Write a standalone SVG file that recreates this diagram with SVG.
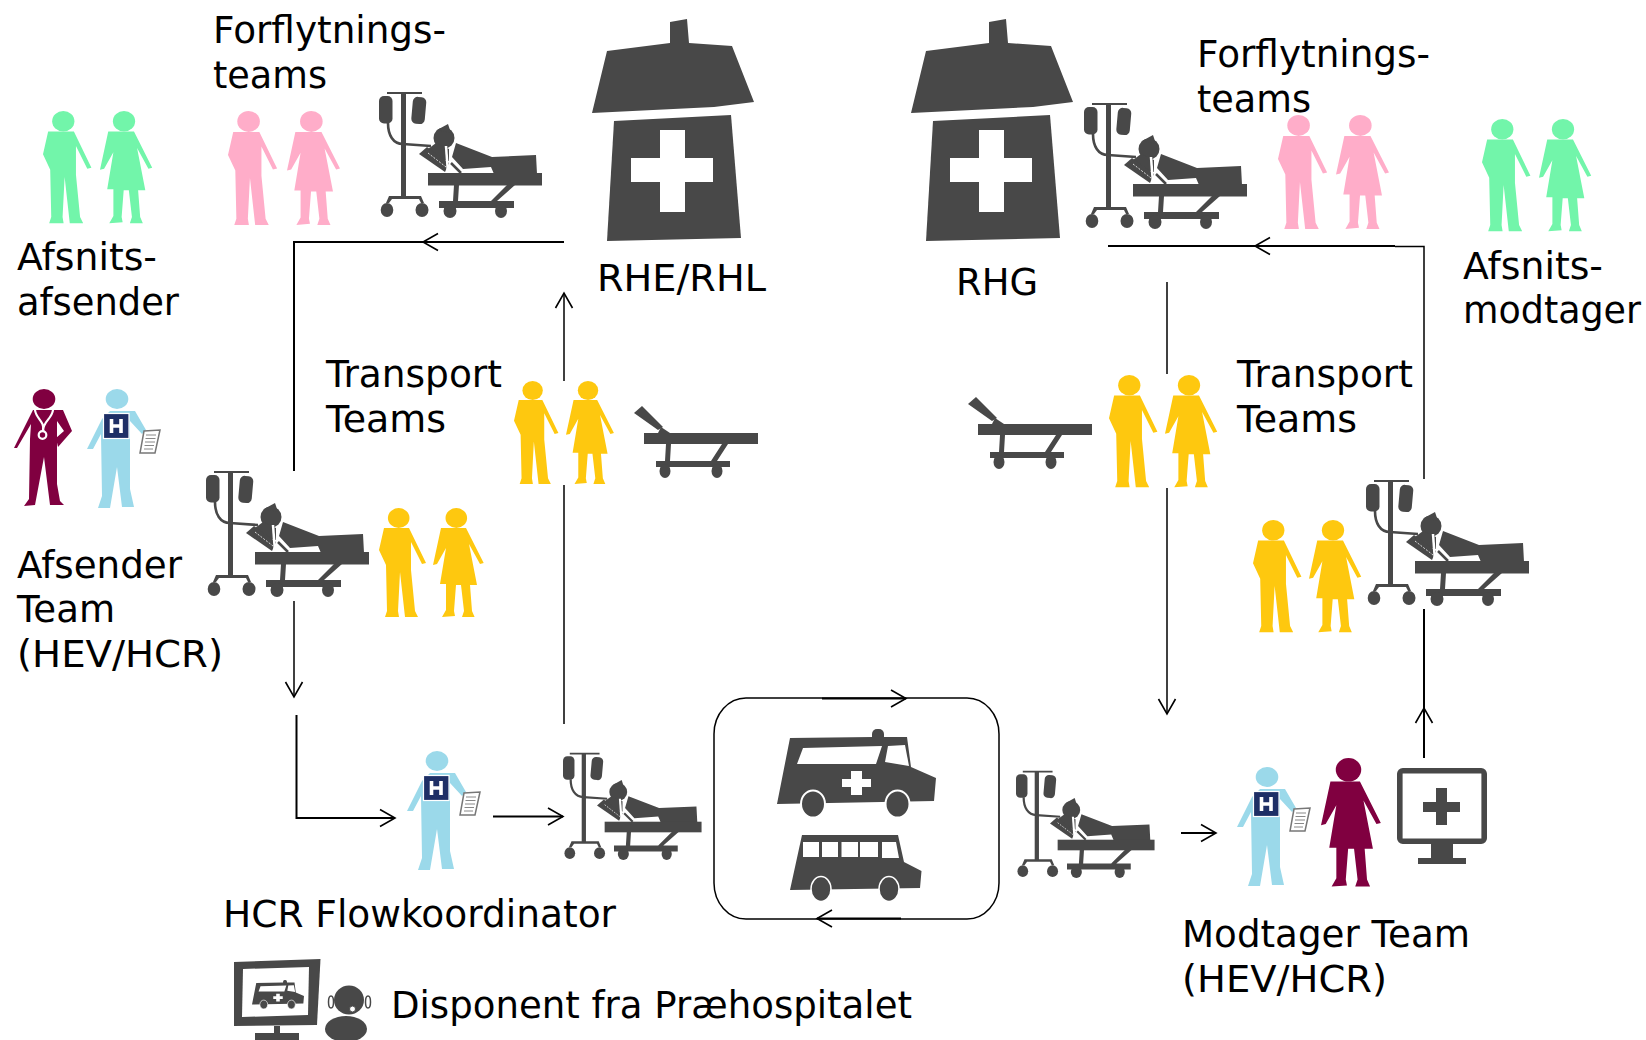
<svg xmlns="http://www.w3.org/2000/svg" xmlns:xlink="http://www.w3.org/1999/xlink" width="1646" height="1040" viewBox="0 0 1646 1040">
<style>
text{font-family:"DejaVu Sans",Verdana,sans-serif;font-size:37px;fill:#000}
.dk{fill:#484848}
.wh{fill:#fff}
.y{fill:#fec80f}.p{fill:#ffadc9}.g{fill:#72f5aa}.b{fill:#800040}.l{fill:#9bd9ea}
.c{fill:none;stroke:#000;stroke-width:1.5}
.c2{fill:none;stroke:#000;stroke-width:2}
</style>
<defs>
<marker id="v" markerUnits="userSpaceOnUse" markerWidth="22" markerHeight="24" refX="18" refY="12" orient="auto" overflow="visible"><path d="M3,3.5 L18,12 L3,20.5" fill="none" stroke="#000" stroke-width="1.6"/></marker>
<g id="man"><ellipse cx="19.7" cy="10" rx="10.8" ry="10"/><path d="M5,20 L30,20 L47,55 L43,56 L32,34 L32,62 L36,103 L39,109 L26,109 L21,64 L19,103 L20,109 L6,109 L8,103 L7,57 L0,42 Z"/></g>
<g id="woman"><ellipse cx="23.3" cy="10" rx="10.8" ry="10"/><path d="M8,20 L33,20 L50.7,55 L47,56 L36,36 L44,77 L37,77 L39,103 L41.6,109 L29,109 L31,103 L28,77 L23,77 L21,103 L22,108 L9,109 L13,102 L13,76 L7,76 L13,40 L4,56 L0,57 Z"/></g>
<g id="patient">
<path class="dk" d="M22,3 H8 V1 H43 V3 H27 V105 H42 L45,112 H42 L40,108 H13 L10,112 H7 L10,105 H22 Z"/>
<rect class="dk" x="0" y="5" width="13.500" height="27.500" rx="5"/>
<rect class="dk" x="33" y="6" width="13.500" height="27" rx="5" transform="rotate(5 40 20)"/>
<path d="M9,32 C9,44 14,53 24,53 L52,55" fill="none" stroke="#484848" stroke-width="2.600"/>
<ellipse class="dk" cx="8" cy="119" rx="6.300" ry="7"/><ellipse class="dk" cx="43" cy="119" rx="6.500" ry="7"/>
<circle class="dk" cx="65" cy="47" r="10.500"/>
<path class="dk" d="M58,39 L69,33 L72,42 Z"/>
<path class="dk" d="M49,58 L57,52 L70,58 L70,70 L58,68 Z"/>
<path class="dk" d="M40,63 L48,56 L70,72 L66,81 Z"/>
<path d="M49,62 L67,76" stroke="#fff" stroke-width="0.800" stroke-dasharray="2 1.500"/>
<path d="M67,55 L69,82" stroke="#fff" stroke-width="2.500"/>
<path class="dk" d="M77,52 L113,66 L157,64 L158,83 L115,83 L112,76 L84,78 L73,66 Z"/>
<path d="M72,72 L82,82" stroke="#484848" stroke-width="2.500"/>
<rect class="dk" x="49" y="82" width="114" height="12.500"/>
<path class="dk" d="M75,94 H80 L79,110 H112 L128,94 H136 L118,110 H135 V117 H60 V110 H74 Z"/>
<ellipse class="dk" cx="71" cy="120" rx="6.500" ry="7"/><ellipse class="dk" cx="122" cy="120" rx="6" ry="7"/>
</g>
<g id="stretcher">
<path class="dk" d="M0,7 L8,0 L29,21 L24,24 Z"/>
<path class="dk" d="M27,21 L36,27 L24,27 Z"/>
<rect class="dk" x="10" y="27" width="114" height="11"/>
<path class="dk" d="M32,38 H37 L36,55 H77 L88,38 H94 L83,55 H96 V61 H22 V55 H31 Z"/>
<ellipse class="dk" cx="31" cy="65" rx="5.500" ry="7"/><ellipse class="dk" cx="83" cy="65" rx="5.500" ry="7"/>
</g>
<g id="nurse">
<ellipse class="l" cx="30" cy="10" rx="11.300" ry="10"/>
<path class="l" d="M23,22 L48,22 L59,41 L55,45 L43,32 L43,100 L47,118 L35,118 L30,78 L23,119 L11,119 L15,107 L14,45 L6,60 L0,60 L15,30 Z"/>
<rect x="16.500" y="24.500" width="25.500" height="25" fill="#1e2f66" stroke="#fff" stroke-width="1.200"/>
<path d="M24.500,30 V44 M34,30 V44 M24.500,37 H34" stroke="#fff" stroke-width="3.600" fill="none"/>
<path d="M57,42 L73,41 L68,64 L53,64 Z" fill="#fff" stroke="#777" stroke-width="1.500"/>
<path d="M59,46 H69 M58.500,49.500 H68.500 M58,53 H68 M57.500,56.500 H67 M57,60 H66" stroke="#888" stroke-width="1"/>
</g>
<g id="doctor">
<ellipse class="b" cx="30" cy="10" rx="11.300" ry="10"/>
<path class="b" d="M19,21 L49,21 L58,42 L44,58 L42,49 L50,42 L43,32 L43,95 L46,112 L50,116 L36,116 L30,68 L21,116 L10,117 L15,110 L16,50 L17,35 L3,59 L0,59 Z"/>
<path d="M21,21 C22,30 31,32 29,42 M39,21 C38,30 29,32 29,42" fill="none" stroke="#fff" stroke-width="2.200"/>
<circle cx="28.500" cy="46" r="3.800" fill="none" stroke="#fff" stroke-width="2.200"/>
</g>
<g id="hospital">
<path class="dk" d="M78,3 L95,0 L97,24 L140,27 L162,83 L122,88 L0,94 L15,32 L78,24 Z"/>
<path class="dk" d="M22,102 L139,96 L149,219 L15,222 Z"/>
<path class="wh" d="M68,111 H93 V139 H121 V163 H93 V193 H68 V163 H39 V139 H68 Z"/>
</g>
<g id="ambulance">
<rect class="dk" x="95" y="0" width="12" height="14" rx="5"/>
<path class="dk" d="M13,9 L96,8 L130,8 L134,38 L159,49 L157,72 L0,75 Z"/>
<path class="wh" d="M26,19 L105,17 L99,35 L20,35 Z"/>
<path class="wh" d="M111,17 L128,16 L132,37 L108,33 Z"/>
<path class="wh" d="M74,42 H85 V50 H94 V58 H85 V66 H74 V58 H65 V50 H74 Z"/>
<ellipse class="dk" cx="36" cy="75" rx="12" ry="13.500" stroke="#fff" stroke-width="2"/>
<ellipse class="dk" cx="120.500" cy="75" rx="12" ry="13.500" stroke="#fff" stroke-width="2"/>
</g>
</defs>

<g id="connectors">
<path class="c2" marker-end="url(#v)" d="M564,242 L423,242"/>
<path class="c2" d="M423,242 L294,242 L294,471"/>
<path class="c" marker-end="url(#v)" d="M564,381 L564,293"/>
<path class="c" d="M564,485 L564,724"/>
<path class="c" marker-end="url(#v)" d="M294,601 L294,697"/>
<path class="c2" marker-end="url(#v)" d="M296.500,715 L296.500,818 L395,818"/>
<path class="c2" marker-end="url(#v)" d="M493,816.500 L563,816.500"/>
<rect class="c" x="714" y="698" width="285" height="221" rx="32" ry="36"/>
<path class="c2" marker-end="url(#v)" d="M822,698.500 L906,698.500"/>
<path class="c2" marker-end="url(#v)" d="M901,918.500 L817,918.500"/>
<path class="c2" marker-end="url(#v)" d="M1395,246 L1255,246"/>
<path class="c2" d="M1255,246 L1108,246"/>
<path class="c" d="M1395,246.500 L1424,246.500 L1424,479"/>
<path class="c" d="M1167,282 L1167,374"/>
<path class="c" marker-end="url(#v)" d="M1167,488 L1167,714"/>
<path class="c2" marker-end="url(#v)" d="M1424,758 L1424,708"/>
<path class="c2" d="M1424,708 L1424,609"/>
<path class="c2" marker-end="url(#v)" d="M1181,833 L1216,833"/>
</g>

<g id="afsnits-afsender">
<use href="#man" class="g" transform="translate(43,111) scale(1.03)"/>
<use href="#woman" class="g" transform="translate(100,111) scale(1.03)"/>
<text x="17" y="270" textLength="140" lengthAdjust="spacingAndGlyphs">Afsnits-</text><text x="17" y="315" textLength="162" lengthAdjust="spacingAndGlyphs">afsender</text>
</g>
<g id="forflytning-left">
<text x="213" y="43" textLength="233" lengthAdjust="spacingAndGlyphs">Forflytnings-</text><text x="213" y="88" textLength="114" lengthAdjust="spacingAndGlyphs">teams</text>
<use href="#man" class="p" transform="translate(228,111) scale(1.045)"/>
<use href="#woman" class="p" transform="translate(287,111) scale(1.045)"/>
</g>
<use id="patient-top-left" href="#patient" transform="translate(379,91)"/>
<g id="rhe-rhl"><use href="#hospital" transform="translate(592,19)"/><text x="597" y="291" textLength="169" lengthAdjust="spacingAndGlyphs">RHE/RHL</text></g>
<g id="rhg"><use href="#hospital" transform="translate(911,19)"/><text x="956" y="295" textLength="82" lengthAdjust="spacingAndGlyphs">RHG</text></g>
<use id="patient-top-right" href="#patient" transform="translate(1084,102)"/>
<g id="forflytning-right">
<text x="1197" y="67" textLength="233" lengthAdjust="spacingAndGlyphs">Forflytnings-</text><text x="1197" y="112" textLength="114" lengthAdjust="spacingAndGlyphs">teams</text>
<use href="#man" class="p" transform="translate(1278,115) scale(1.045)"/>
<use href="#woman" class="p" transform="translate(1336,115) scale(1.045)"/>
</g>
<g id="afsnits-modtager">
<use href="#man" class="g" transform="translate(1482,119) scale(1.03)"/>
<use href="#woman" class="g" transform="translate(1539,119) scale(1.03)"/>
<text x="1463" y="279" textLength="140" lengthAdjust="spacingAndGlyphs">Afsnits-</text><text x="1463" y="323" textLength="178" lengthAdjust="spacingAndGlyphs">modtager</text>
</g>
<g id="afsender-team">
<use href="#doctor" transform="translate(14,389)"/>
<use href="#nurse" transform="translate(87,389)"/>
<text x="17" y="578" textLength="165" lengthAdjust="spacingAndGlyphs">Afsender</text><text x="17" y="622" textLength="98" lengthAdjust="spacingAndGlyphs">Team</text><text x="17" y="667" textLength="206" lengthAdjust="spacingAndGlyphs">(HEV/HCR)</text>
</g>
<use id="patient-afsender" href="#patient" transform="translate(206,470)"/>
<g id="transport-afsender">
<use href="#man" class="y" transform="translate(379,508)"/>
<use href="#woman" class="y" transform="translate(433,508)"/>
</g>
<g id="transport-left">
<text x="326" y="387" textLength="176" lengthAdjust="spacingAndGlyphs">Transport</text><text x="326" y="432" textLength="120" lengthAdjust="spacingAndGlyphs">Teams</text>
<use href="#man" class="y" transform="translate(514,381) scale(.945)"/>
<use href="#woman" class="y" transform="translate(566,381) scale(.945)"/>
<use href="#stretcher" transform="translate(634,406)"/>
</g>
<g id="transport-right">
<use href="#stretcher" transform="translate(968,397)"/>
<use href="#man" class="y" transform="translate(1109,375) scale(1.03)"/>
<use href="#woman" class="y" transform="translate(1165,375) scale(1.03)"/>
<text x="1237" y="387" textLength="176" lengthAdjust="spacingAndGlyphs">Transport</text><text x="1237" y="432" textLength="120" lengthAdjust="spacingAndGlyphs">Teams</text>
</g>
<g id="transport-modtager">
<use href="#man" class="y" transform="translate(1253,520) scale(1.03)"/>
<use href="#woman" class="y" transform="translate(1309,520) scale(1.03)"/>
</g>
<use id="patient-modtager" href="#patient" transform="translate(1366,479)"/>
<g id="flowkoordinator">
<use href="#nurse" transform="translate(407,751)"/>
<text x="223" y="927" textLength="393" lengthAdjust="spacingAndGlyphs">HCR Flowkoordinator</text>
</g>
<use id="patient-flow" href="#patient" transform="translate(563,752) scale(.85)"/>
<g id="vehicles">
<use href="#ambulance" transform="translate(777,729)"/>
<g id="bus">
<path class="dk" d="M802,835 L898,835 L904,862 L921.500,871 L920,888 L790,890 Z"/>
<path class="wh" d="M803,842H819V857H803Z M822,842H838V857H822Z M841.500,842H858V857H841.500Z M860,842H878V857H860Z M882,842H896L899,858H882Z"/>
<ellipse class="dk" cx="821" cy="889" rx="10" ry="12.500" stroke="#fff" stroke-width="1.500"/>
<ellipse class="dk" cx="889" cy="889" rx="10" ry="12.500" stroke="#fff" stroke-width="1.500"/>
</g>
</g>
<use id="patient-bottom-right" href="#patient" transform="translate(1016,770) scale(.85)"/>
<g id="modtager-team">
<use href="#nurse" transform="translate(1237,767)"/>
<use href="#woman" class="b" transform="translate(1321,758) scale(1.18)"/>
<rect x="1399.800" y="770.800" width="84.400" height="70.400" rx="3" fill="#fff" stroke="#484848" stroke-width="5.600"/>
<path class="dk" d="M1436,788H1447V802H1460V812H1447V825H1436V812H1423V802H1436Z"/>
<path class="dk" d="M1431,844H1453V858H1466V864H1418V858H1431Z"/>
<text x="1182" y="947" textLength="288" lengthAdjust="spacingAndGlyphs">Modtager Team</text><text x="1182" y="992" textLength="205" lengthAdjust="spacingAndGlyphs">(HEV/HCR)</text>
</g>
<g id="disponent">
<path class="dk" d="M234,962 L320.500,959 L317,1025 L234,1026 Z"/>
<path class="wh" d="M243,969 L309,967 L308,1015 L242,1017 Z"/>
<use href="#ambulance" transform="translate(252,980) scale(.327)"/>
<path class="dk" d="M274,1026H280V1033H299V1040H255V1033H274Z"/>
<ellipse class="dk" cx="349" cy="1000" rx="15" ry="14.500"/>
<ellipse cx="331" cy="1002" rx="2.500" ry="6" fill="none" stroke="#484848" stroke-width="1.500"/>
<ellipse cx="368" cy="1002" rx="2.500" ry="6" fill="none" stroke="#484848" stroke-width="1.500"/>
<circle cx="352.500" cy="1009" r="3" fill="#fff" stroke="#484848"/>
<ellipse class="dk" cx="346" cy="1029" rx="21" ry="13"/>
<text x="391" y="1018" textLength="521" lengthAdjust="spacingAndGlyphs">Disponent fra Præhospitalet</text>
</g>
</svg>
